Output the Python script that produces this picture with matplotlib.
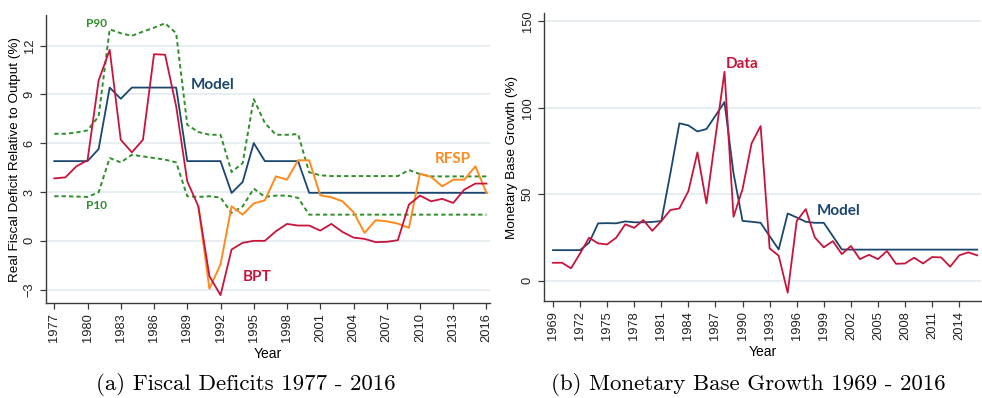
import matplotlib

matplotlib.use("Agg")
import matplotlib.pyplot as plt

# Fiscal deficit relative to output (%), 1977-2016
fiscal_years = list(range(1977, 2017))
fiscal_model = [
    4.9, 4.9, 4.9, 4.9, 5.64, 9.42, 8.73, 9.42, 9.42, 9.42,
    9.42, 9.42, 4.9, 4.9, 4.9, 4.9, 2.94, 3.62, 6.01, 4.9,
    4.9, 4.9, 4.9, 2.95, 2.95, 2.95, 2.95, 2.95, 2.95, 2.95,
    2.95, 2.95, 2.95, 2.95, 2.95, 2.95, 2.95, 2.95, 2.95, 2.95,
]
fiscal_bpt = [
    3.84, 3.9, 4.58, 4.95, 9.85, 11.74, 6.21, 5.44, 6.21, 11.47,
    11.44, 8.26, 3.66, 2.12, -2.17, -3.34, -0.53, -0.12, 0.0, 0.0,
    0.59, 1.04, 0.94, 0.94, 0.63, 1.04, 0.55, 0.2, 0.12, -0.08,
    -0.06, 0.04, 2.23, 2.78, 2.43, 2.58, 2.33, 3.15, 3.52, 3.52,
]
rfsp_years = list(range(1990, 2017))
fiscal_rfsp = [
    2.12, -2.94, -1.45, 2.12, 1.61, 2.3, 2.49, 3.96, 3.76, 4.95,
    4.95, 2.8, 2.68, 2.43, 1.76, 0.49, 1.27, 1.2, 1.06, 0.8,
    4.13, 3.93, 3.35, 3.76, 3.76, 4.58, 2.94,
]
fiscal_p90 = [
    6.58, 6.58, 6.66, 6.79, 7.65, 13.0, 12.76, 12.6, 12.86, 13.1,
    13.37, 12.76, 7.13, 6.69, 6.52, 6.52, 4.23, 4.78, 8.71, 7.24,
    6.52, 6.52, 6.56, 4.21, 4.03, 3.98, 3.98, 3.98, 3.98, 3.98,
    3.98, 3.98, 4.35, 4.1, 3.96, 3.96, 3.96, 3.96, 3.96, 3.96,
]
fiscal_p10 = [
    2.74, 2.74, 2.72, 2.7, 2.98, 5.09, 4.82, 5.29, 5.19, 5.09,
    4.99, 4.82, 2.74, 2.7, 2.74, 2.66, 1.72, 2.12, 3.21, 2.7,
    2.78, 2.78, 2.64, 1.61, 1.61, 1.61, 1.61, 1.61, 1.61, 1.61,
    1.61, 1.61, 1.61, 1.61, 1.61, 1.61, 1.61, 1.61, 1.61, 1.61,
]
fiscal_xticks = list(range(1977, 2017, 3))
fiscal_yticks = [-3, 0, 3, 6, 9, 12]

# Monetary base growth (%), 1969-2016
money_years = list(range(1969, 2017))
money_data = [
    10.4, 10.4, 7.2, 15.8, 24.9, 21.6, 21.0, 24.9, 32.6, 30.6,
    35.1, 28.9, 34.5, 40.9, 41.8, 51.8, 74.2, 44.7, 83.0, 120.8,
    37.0, 53.0, 79.4, 89.4, 18.7, 14.5, -6.9, 34.5, 41.4, 25.1,
    19.3, 22.9, 15.4, 20.1, 12.5, 15.0, 12.5, 17.2, 9.8, 10.0,
    13.3, 10.0, 13.7, 13.5, 8.1, 14.7, 16.4, 14.7,
]
money_model = [
    17.7, 17.7, 17.7, 17.7, 22.0, 33.2, 33.3, 33.2, 34.3, 33.8,
    33.8, 34.0, 34.5, 62.0, 91.0, 89.8, 86.3, 87.7, 95.4, 103.3,
    62.1, 34.6, 34.1, 33.5, 25.8, 18.1, 38.9, 36.6, 34.1, 33.5,
    33.5, 25.8, 18.1, 18.0, 18.0, 18.0, 18.0, 18.0, 18.0, 18.0,
    18.0, 18.0, 18.0, 18.0, 18.0, 18.0, 18.0, 18.0,
]
money_xticks = list(range(1969, 2016, 3))
money_yticks = [0, 50, 100, 150]

NAVY = "#1a476f"
CRANBERRY = "#c8143c"
ORANGE = "#ff8a1c"
GREEN = "#2f8f2a"
GRID = "#e6eef2"
SPINE = "#3a3a3a"

TICK_FONT = "Liberation Sans"
LABEL_FONT = "Lato"


def style_axes(ax, xticks, yticks):
    for side in ("top", "right"):
        ax.spines[side].set_visible(False)
    for side in ("left", "bottom"):
        ax.spines[side].set_color(SPINE)
        ax.spines[side].set_linewidth(1.0)
    ax.set_xticks(xticks)
    ax.set_yticks(yticks)
    ax.tick_params(axis="both", direction="out", length=4, width=0.9,
                   color=SPINE, labelsize=9.3, labelcolor="#222222")
    ax.tick_params(axis="x", labelrotation=90)
    for lab in ax.get_yticklabels():
        lab.set_rotation(90)
        lab.set_va("center")
    for lab in ax.get_xticklabels() + ax.get_yticklabels():
        lab.set_fontfamily(TICK_FONT)
    ax.yaxis.grid(True, color=GRID, linewidth=1.4)
    ax.set_axisbelow(True)
    ax.set_xlabel("Year", fontfamily=TICK_FONT, fontsize=10, labelpad=3)


fig = plt.figure(figsize=(9.82, 3.98), dpi=100)

# (a) fiscal deficits
ax1 = fig.add_axes([0.0468, 0.2387, 0.452, 0.7236])
dots = (0, (2.2, 1.6))
ax1.plot(fiscal_years, fiscal_p90, color=GREEN, linewidth=1.4, linestyle=dots)
ax1.plot(fiscal_years, fiscal_p10, color=GREEN, linewidth=1.4, linestyle=dots)
ax1.plot(fiscal_years, fiscal_model, color=NAVY, linewidth=1.3)
ax1.plot(rfsp_years, fiscal_rfsp, color=ORANGE, linewidth=1.4)
ax1.plot(fiscal_years, fiscal_bpt, color=CRANBERRY, linewidth=1.3)
ax1.set_xlim(1976.25, 2016.3)
ax1.set_ylim(-3.82, 13.88)
style_axes(ax1, fiscal_xticks, fiscal_yticks)
ax1.set_ylabel("Real Fiscal Deficit Relative to Output (%)",
               fontfamily=TICK_FONT, fontsize=9.7, labelpad=1.5)

ax1.text(1980.85, 13.33, "P90", color=GREEN, fontfamily=LABEL_FONT,
         fontweight="bold", fontsize=8.5, ha="center", va="center")
ax1.text(1980.85, 2.2, "P10", color=GREEN, fontfamily=LABEL_FONT,
         fontweight="bold", fontsize=8.5, ha="center", va="center")
ax1.text(1991.3, 9.6, "Model", color=NAVY, fontfamily=LABEL_FONT,
         fontweight="bold", fontsize=11, ha="center", va="center")
ax1.text(2013.0, 5.0, "RFSP", color=ORANGE, fontfamily=LABEL_FONT,
         fontweight="bold", fontsize=11, ha="center", va="center")
ax1.text(1995.3, -2.2, "BPT", color=CRANBERRY, fontfamily=LABEL_FONT,
         fontweight="bold", fontsize=11, ha="center", va="center")

# (b) monetary base growth
ax2 = fig.add_axes([0.5543, 0.2437, 0.445, 0.7229])
ax2.plot(money_years, money_model, color=NAVY, linewidth=1.3)
ax2.plot(money_years, money_data, color=CRANBERRY, linewidth=1.3)
ax2.set_xlim(1968.04, 2016.45)
ax2.set_ylim(-11.7, 154.6)
style_axes(ax2, money_xticks, money_yticks)
ax2.set_ylabel("Monetary Base Growth (%)", fontfamily=TICK_FONT,
               fontsize=9.7, labelpad=3)

ax2.text(1989.9, 125.3, "Data", color=CRANBERRY, fontfamily=LABEL_FONT,
         fontweight="bold", fontsize=11, ha="center", va="center")
ax2.text(2000.6, 40.3, "Model", color=NAVY, fontfamily=LABEL_FONT,
         fontweight="bold", fontsize=11, ha="center", va="center")

# captions under each panel
fig.text(246 / 982, 1 - 384 / 398, "(a) Fiscal Deficits 1977 - 2016",
         fontfamily="cmr10", fontsize=16.5, ha="center", va="center")
fig.text(748 / 982, 1 - 384 / 398, "(b) Monetary Base Growth 1969 - 2016",
         fontfamily="cmr10", fontsize=16.5, ha="center", va="center")

fig.savefig("out.png", dpi=100)
plt.close(fig)
